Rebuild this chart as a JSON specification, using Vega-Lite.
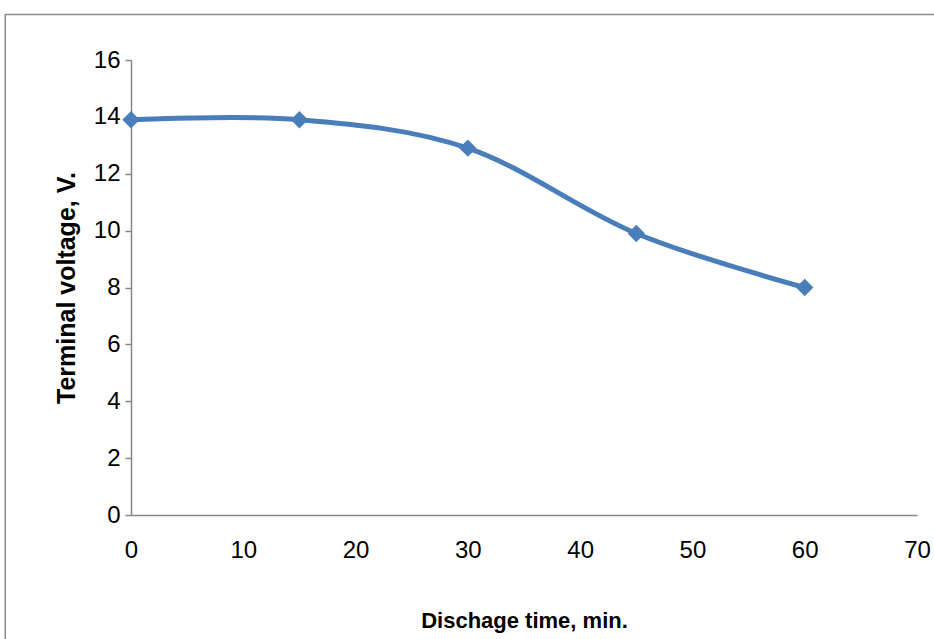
{
  "$schema": "https://vega.github.io/schema/vega-lite/v6.json",
  "width": 786,
  "height": 455,
  "autosize": "none",
  "padding": {"left": 131, "top": 60, "right": 17, "bottom": 124},
  "background": "white",
  "config": {"view": {"stroke": null}},
  "datasets": {
    "pts": [
      {"time": 0, "voltage": 13.9},
      {"time": 15, "voltage": 13.9},
      {"time": 30, "voltage": 12.9},
      {"time": 45, "voltage": 9.9},
      {"time": 60, "voltage": 8.0}
    ],
    "frame": [{"x0": -11.2, "x1": 80, "y0": 17.6, "y1": -6}]
  },
  "layer": [
    {
      "data": {"name": "pts"},
      "mark": {"type": "line", "interpolate": "cardinal", "color": "#4a7ebb", "strokeWidth": 5},
      "encoding": {
        "x": {
          "field": "time", "type": "quantitative",
          "scale": {"domain": [0, 70], "nice": false, "zero": false},
          "axis": {
            "title": "Dischage time, min.",
            "values": [0, 10, 20, 30, 40, 50, 60, 70],
            "grid": false, "ticks": false, "domainColor": "#868686", "domainWidth": 1.5,
            "labelFont": "Liberation Sans", "labelFontSize": 24, "labelColor": "#000",
            "labelPadding": 23, "labelFlush": false,
            "titleFont": "Liberation Sans", "titleFontSize": 22, "titleFontWeight": "bold",
            "titleColor": "#000", "titlePadding": 48
          }
        },
        "y": {
          "field": "voltage", "type": "quantitative",
          "scale": {"domain": [0, 16], "nice": false, "zero": true},
          "axis": {
            "title": "Terminal voltage, V.",
            "values": [0, 2, 4, 6, 8, 10, 12, 14, 16],
            "grid": false, "ticks": true, "tickSize": 6, "tickColor": "#868686", "tickWidth": 1.5,
            "domainColor": "#868686", "domainWidth": 1.5,
            "labelFont": "Liberation Sans", "labelFontSize": 24, "labelColor": "#000",
            "labelPadding": 5, "labelFlush": false,
            "titleFont": "Liberation Sans", "titleFontSize": 25, "titleFontWeight": "bold",
            "titleColor": "#000", "titlePadding": 14
          }
        }
      }
    },
    {
      "data": {"name": "pts"},
      "mark": {"type": "point", "shape": "diamond", "filled": true, "color": "#4a7ebb", "size": 300, "opacity": 1},
      "encoding": {
        "x": {"field": "time", "type": "quantitative"},
        "y": {"field": "voltage", "type": "quantitative"}
      }
    },
    {
      "data": {"name": "frame"},
      "mark": {"type": "rect", "fill": null, "stroke": "#8c8c8c", "strokeWidth": 1.5, "clip": false},
      "encoding": {
        "x": {"field": "x0", "type": "quantitative", "title": "Dischage time, min."},
        "x2": {"field": "x1"},
        "y": {"field": "y0", "type": "quantitative", "title": "Terminal voltage, V."},
        "y2": {"field": "y1"}
      }
    }
  ]
}
